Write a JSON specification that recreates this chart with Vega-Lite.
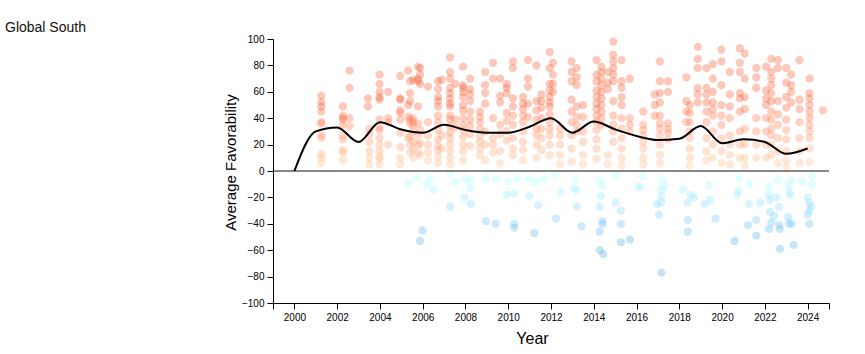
{
  "$schema": "https://vega.github.io/schema/vega-lite/v6.json",
  "width": 556,
  "height": 264,
  "autosize": {"type": "none"},
  "padding": {"left": 273, "top": 39, "right": 36, "bottom": 51},
  "background": "white",
  "title": {"text": "Global South", "anchor": "start", "frame": "group", "orient": "top", "dx": -268, "dy": 19, "offset": 7, "baseline": "alphabetic", "fontSize": 14, "font": "Liberation Sans", "fontWeight": "normal", "color": "#111111"},
  "config": {"view": {"stroke": null}, "font": "Liberation Sans"},
  "datasets": {
    "points": [
      {"year":2001.26,"fav":57},{"year":2001.26,"fav":52},{"year":2001.26,"fav":49},{"year":2001.26,"fav":45},{"year":2001.26,"fav":37},{"year":2001.26,"fav":36},{"year":2001.26,"fav":27},{"year":2001.26,"fav":25},{"year":2001.26,"fav":13},{"year":2001.26,"fav":10},{"year":2001.26,"fav":6},
      {"year":2002.27,"fav":49},{"year":2002.27,"fav":42},{"year":2002.27,"fav":40},{"year":2002.27,"fav":39},{"year":2002.27,"fav":35},{"year":2002.27,"fav":27},{"year":2002.27,"fav":24},{"year":2002.27,"fav":16},{"year":2002.27,"fav":14},{"year":2002.27,"fav":8},
      {"year":2002.58,"fav":76},{"year":2002.58,"fav":63},{"year":2002.58,"fav":40},{"year":2002.58,"fav":34},
      {"year":2003.44,"fav":55},{"year":2003.44,"fav":49},
      {"year":2003.51,"fav":32},{"year":2003.51,"fav":28},{"year":2003.51,"fav":22},{"year":2003.51,"fav":15},{"year":2003.51,"fav":10},{"year":2003.51,"fav":5},
      {"year":2003.98,"fav":73},{"year":2003.98,"fav":66},{"year":2003.98,"fav":60},{"year":2003.98,"fav":56},{"year":2003.98,"fav":54},{"year":2003.98,"fav":39},{"year":2003.98,"fav":33},{"year":2003.98,"fav":31},{"year":2003.98,"fav":25},{"year":2003.98,"fav":20},{"year":2003.98,"fav":15},{"year":2003.98,"fav":11},{"year":2003.98,"fav":9},{"year":2003.98,"fav":5},
      {"year":2004.39,"fav":60},{"year":2004.39,"fav":40},{"year":2004.39,"fav":37},{"year":2004.39,"fav":20},
      {"year":2004.95,"fav":72},{"year":2004.95,"fav":55},{"year":2004.95,"fav":54},{"year":2004.95,"fav":46},{"year":2004.95,"fav":44},{"year":2004.95,"fav":39},{"year":2004.95,"fav":29},{"year":2004.95,"fav":18},{"year":2004.95,"fav":10},{"year":2004.95,"fav":5},
      {"year":2005.32,"fav":76},{"year":2005.32,"fav":50},{"year":2005.32,"fav":41},{"year":2005.32,"fav":25},
      {"year":2005.41,"fav":68},{"year":2005.41,"fav":59},{"year":2005.41,"fav":53},{"year":2005.41,"fav":39},{"year":2005.41,"fav":36},{"year":2005.41,"fav":26},{"year":2005.41,"fav":20},{"year":2005.41,"fav":14},
      {"year":2005.55,"fav":69},{"year":2005.55,"fav":40},{"year":2005.55,"fav":37},{"year":2005.55,"fav":35},{"year":2005.55,"fav":30},{"year":2005.55,"fav":22},{"year":2005.55,"fav":16},{"year":2005.55,"fav":10},
      {"year":2005.78,"fav":79},{"year":2005.78,"fav":70},{"year":2005.78,"fav":68},{"year":2005.78,"fav":49},{"year":2005.78,"fav":36},{"year":2005.78,"fav":27},{"year":2005.78,"fav":20},{"year":2005.78,"fav":14},
      {"year":2005.88,"fav":78},{"year":2005.88,"fav":73},{"year":2005.88,"fav":66},{"year":2005.88,"fav":31},{"year":2005.88,"fav":21},{"year":2005.88,"fav":12},
      {"year":2006.25,"fav":64},{"year":2006.25,"fav":37},{"year":2006.25,"fav":27},{"year":2006.25,"fav":20},{"year":2006.25,"fav":14},{"year":2006.25,"fav":8},
      {"year":2006.72,"fav":68},{"year":2006.72,"fav":62},{"year":2006.72,"fav":56},{"year":2006.72,"fav":53},{"year":2006.72,"fav":49},{"year":2006.72,"fav":42},{"year":2006.72,"fav":37},{"year":2006.72,"fav":31},{"year":2006.72,"fav":24},{"year":2006.72,"fav":19},{"year":2006.72,"fav":16},{"year":2006.72,"fav":11},{"year":2006.72,"fav":6},
      {"year":2006.89,"fav":69},{"year":2006.89,"fav":27},{"year":2006.89,"fav":17},
      {"year":2007.28,"fav":86},{"year":2007.28,"fav":75},{"year":2007.28,"fav":70},{"year":2007.28,"fav":63},{"year":2007.28,"fav":59},{"year":2007.28,"fav":55},{"year":2007.28,"fav":51},{"year":2007.28,"fav":49},{"year":2007.28,"fav":42},{"year":2007.28,"fav":39},{"year":2007.28,"fav":34},{"year":2007.28,"fav":29},{"year":2007.28,"fav":25},{"year":2007.28,"fav":20},{"year":2007.28,"fav":15},{"year":2007.28,"fav":10},{"year":2007.28,"fav":5},
      {"year":2007.52,"fav":66},{"year":2007.52,"fav":39},{"year":2007.52,"fav":33},
      {"year":2007.89,"fav":79},{"year":2007.89,"fav":65},{"year":2007.89,"fav":63},{"year":2007.89,"fav":60},{"year":2007.89,"fav":56},{"year":2007.89,"fav":50},{"year":2007.89,"fav":46},{"year":2007.89,"fav":40},{"year":2007.89,"fav":35},{"year":2007.89,"fav":31},{"year":2007.89,"fav":26},{"year":2007.89,"fav":20},{"year":2007.89,"fav":15},{"year":2007.89,"fav":8},
      {"year":2008.22,"fav":70},{"year":2008.22,"fav":62},{"year":2008.22,"fav":58},{"year":2008.22,"fav":53},{"year":2008.22,"fav":45},{"year":2008.22,"fav":39},{"year":2008.22,"fav":34},{"year":2008.22,"fav":28},{"year":2008.22,"fav":19},
      {"year":2008.68,"fav":45},{"year":2008.68,"fav":41},{"year":2008.68,"fav":37},{"year":2008.68,"fav":32},{"year":2008.68,"fav":27},{"year":2008.68,"fav":22},{"year":2008.68,"fav":17},{"year":2008.68,"fav":12},
      {"year":2008.92,"fav":75},{"year":2008.92,"fav":65},{"year":2008.92,"fav":59},{"year":2008.92,"fav":51},{"year":2008.92,"fav":30},{"year":2008.92,"fav":20},{"year":2008.92,"fav":8},
      {"year":2009.29,"fav":82},{"year":2009.29,"fav":70},{"year":2009.29,"fav":40},{"year":2009.29,"fav":25},{"year":2009.29,"fav":20},{"year":2009.29,"fav":14},
      {"year":2009.62,"fav":70},{"year":2009.62,"fav":57},{"year":2009.62,"fav":52},{"year":2009.62,"fav":35},{"year":2009.62,"fav":28},{"year":2009.62,"fav":15},{"year":2009.62,"fav":6},
      {"year":2009.93,"fav":66},{"year":2009.93,"fav":63},{"year":2009.93,"fav":59},{"year":2009.93,"fav":44},{"year":2009.93,"fav":38},{"year":2009.93,"fav":30},{"year":2009.93,"fav":23},
      {"year":2010.22,"fav":83},{"year":2010.22,"fav":78},{"year":2010.22,"fav":55},{"year":2010.22,"fav":49},{"year":2010.22,"fav":42},{"year":2010.22,"fav":35},{"year":2010.22,"fav":25},{"year":2010.22,"fav":17},{"year":2010.22,"fav":12},
      {"year":2010.69,"fav":56},{"year":2010.69,"fav":51},{"year":2010.69,"fav":47},{"year":2010.69,"fav":42},{"year":2010.69,"fav":37},{"year":2010.69,"fav":30},{"year":2010.69,"fav":22},{"year":2010.69,"fav":16},{"year":2010.69,"fav":8},
      {"year":2010.92,"fav":84},{"year":2010.92,"fav":70},{"year":2010.92,"fav":64},{"year":2010.92,"fav":51},{"year":2010.92,"fav":41},
      {"year":2011.32,"fav":80},{"year":2011.32,"fav":53},{"year":2011.32,"fav":46},{"year":2011.32,"fav":39},{"year":2011.32,"fav":32},{"year":2011.32,"fav":27},{"year":2011.32,"fav":20},{"year":2011.32,"fav":10},
      {"year":2011.55,"fav":58},{"year":2011.55,"fav":53},{"year":2011.55,"fav":48},{"year":2011.55,"fav":40},{"year":2011.55,"fav":32},{"year":2011.55,"fav":25},{"year":2011.55,"fav":16},
      {"year":2011.94,"fav":90},{"year":2011.94,"fav":78},{"year":2011.94,"fav":66},{"year":2011.94,"fav":61},{"year":2011.94,"fav":56},{"year":2011.94,"fav":52},{"year":2011.94,"fav":49},{"year":2011.94,"fav":43},{"year":2011.94,"fav":37},{"year":2011.94,"fav":32},{"year":2011.94,"fav":27},{"year":2011.94,"fav":20},{"year":2011.94,"fav":12},
      {"year":2012.09,"fav":82},{"year":2012.09,"fav":73},{"year":2012.09,"fav":66},{"year":2012.09,"fav":60},
      {"year":2012.42,"fav":32},{"year":2012.42,"fav":27},{"year":2012.42,"fav":20},{"year":2012.42,"fav":12},{"year":2012.42,"fav":5},
      {"year":2012.96,"fav":83},{"year":2012.96,"fav":75},{"year":2012.96,"fav":68},{"year":2012.96,"fav":54},{"year":2012.96,"fav":45},{"year":2012.96,"fav":37},{"year":2012.96,"fav":27},{"year":2012.96,"fav":17},{"year":2012.96,"fav":7},
      {"year":2013.2,"fav":78},{"year":2013.2,"fav":71},{"year":2013.2,"fav":65},{"year":2013.2,"fav":49},{"year":2013.2,"fav":41},{"year":2013.2,"fav":35},{"year":2013.2,"fav":30},
      {"year":2013.5,"fav":50},{"year":2013.5,"fav":41},{"year":2013.5,"fav":30},{"year":2013.5,"fav":22},{"year":2013.5,"fav":12},{"year":2013.5,"fav":5},
      {"year":2014.13,"fav":84},{"year":2014.13,"fav":73},{"year":2014.13,"fav":68},{"year":2014.13,"fav":61},{"year":2014.13,"fav":56},{"year":2014.13,"fav":51},{"year":2014.13,"fav":47},{"year":2014.13,"fav":42},{"year":2014.13,"fav":37},{"year":2014.13,"fav":31},{"year":2014.13,"fav":24},{"year":2014.13,"fav":17},{"year":2014.13,"fav":9},
      {"year":2014.36,"fav":79},{"year":2014.36,"fav":75},{"year":2014.36,"fav":70},{"year":2014.36,"fav":65},{"year":2014.36,"fav":60},{"year":2014.36,"fav":55},{"year":2014.36,"fav":50},{"year":2014.36,"fav":45},{"year":2014.36,"fav":40},{"year":2014.36,"fav":35},
      {"year":2014.66,"fav":75},{"year":2014.66,"fav":67},{"year":2014.66,"fav":62},{"year":2014.66,"fav":12},{"year":2014.66,"fav":5},
      {"year":2014.91,"fav":98},{"year":2014.91,"fav":88},{"year":2014.91,"fav":83},{"year":2014.91,"fav":78},{"year":2014.91,"fav":73},{"year":2014.91,"fav":68},{"year":2014.91,"fav":53},{"year":2014.91,"fav":42},{"year":2014.91,"fav":35},{"year":2014.91,"fav":30},{"year":2014.91,"fav":22},
      {"year":2015.3,"fav":84},{"year":2015.3,"fav":68},{"year":2015.3,"fav":63},{"year":2015.3,"fav":56},{"year":2015.3,"fav":50},{"year":2015.3,"fav":40},{"year":2015.3,"fav":32},{"year":2015.3,"fav":25},{"year":2015.3,"fav":17},{"year":2015.3,"fav":10},{"year":2015.3,"fav":4},
      {"year":2015.69,"fav":70},{"year":2015.69,"fav":40},{"year":2015.69,"fav":35},{"year":2015.69,"fav":30},
      {"year":2016.31,"fav":45},{"year":2016.31,"fav":35},{"year":2016.31,"fav":31},{"year":2016.31,"fav":27},{"year":2016.31,"fav":22},{"year":2016.31,"fav":17},{"year":2016.31,"fav":10},{"year":2016.31,"fav":5},
      {"year":2016.85,"fav":58},{"year":2016.85,"fav":50},{"year":2016.85,"fav":42},
      {"year":2017.09,"fav":83},{"year":2017.09,"fav":68},{"year":2017.09,"fav":59},{"year":2017.09,"fav":52},{"year":2017.09,"fav":42},{"year":2017.09,"fav":36},{"year":2017.09,"fav":32},{"year":2017.09,"fav":27},{"year":2017.09,"fav":20},{"year":2017.09,"fav":12},{"year":2017.09,"fav":6},
      {"year":2017.47,"fav":68},{"year":2017.47,"fav":60},{"year":2017.47,"fav":36},{"year":2017.47,"fav":32},{"year":2017.47,"fav":29},{"year":2017.47,"fav":24},
      {"year":2018.33,"fav":71},{"year":2018.33,"fav":53},{"year":2018.33,"fav":45},{"year":2018.33,"fav":37},
      {"year":2018.49,"fav":50},{"year":2018.49,"fav":44},{"year":2018.49,"fav":37},{"year":2018.49,"fav":30},{"year":2018.49,"fav":25},{"year":2018.49,"fav":17},{"year":2018.49,"fav":10},{"year":2018.49,"fav":4},
      {"year":2018.86,"fav":94},{"year":2018.86,"fav":85},{"year":2018.86,"fav":78},{"year":2018.86,"fav":63},{"year":2018.86,"fav":58},{"year":2018.86,"fav":52},
      {"year":2019.27,"fav":78},{"year":2019.27,"fav":63},{"year":2019.27,"fav":58},{"year":2019.27,"fav":52},{"year":2019.27,"fav":45},{"year":2019.27,"fav":37},{"year":2019.27,"fav":25},{"year":2019.27,"fav":15},{"year":2019.27,"fav":8},
      {"year":2019.57,"fav":81},{"year":2019.57,"fav":70},{"year":2019.57,"fav":60},{"year":2019.57,"fav":52},{"year":2019.57,"fav":47},{"year":2019.57,"fav":42},{"year":2019.57,"fav":30},{"year":2019.57,"fav":20},{"year":2019.57,"fav":10},
      {"year":2019.97,"fav":92},{"year":2019.97,"fav":83},{"year":2019.97,"fav":65},{"year":2019.97,"fav":50},{"year":2019.97,"fav":42},{"year":2019.97,"fav":35},{"year":2019.97,"fav":25},{"year":2019.97,"fav":15},{"year":2019.97,"fav":6},
      {"year":2020.36,"fav":75},{"year":2020.36,"fav":58},{"year":2020.36,"fav":49},{"year":2020.36,"fav":40},{"year":2020.36,"fav":27},{"year":2020.36,"fav":20},{"year":2020.36,"fav":12},{"year":2020.36,"fav":5},
      {"year":2020.83,"fav":93},{"year":2020.83,"fav":82},{"year":2020.83,"fav":75},{"year":2020.83,"fav":59},{"year":2020.83,"fav":55},{"year":2020.83,"fav":45},{"year":2020.83,"fav":30},{"year":2020.83,"fav":20},{"year":2020.83,"fav":10},
      {"year":2021.06,"fav":89},{"year":2021.06,"fav":70},{"year":2021.06,"fav":56},{"year":2021.06,"fav":47},{"year":2021.06,"fav":32},{"year":2021.06,"fav":20},{"year":2021.06,"fav":10},{"year":2021.06,"fav":4},
      {"year":2021.6,"fav":78},{"year":2021.6,"fav":71},{"year":2021.6,"fav":63},{"year":2021.6,"fav":40},{"year":2021.6,"fav":30},{"year":2021.6,"fav":20},{"year":2021.6,"fav":10},
      {"year":2022.06,"fav":79},{"year":2022.06,"fav":61},{"year":2022.06,"fav":55},{"year":2022.06,"fav":50},{"year":2022.06,"fav":40},{"year":2022.06,"fav":30},{"year":2022.06,"fav":20},{"year":2022.06,"fav":10},
      {"year":2022.3,"fav":85},{"year":2022.3,"fav":75},{"year":2022.3,"fav":70},{"year":2022.3,"fav":65},{"year":2022.3,"fav":59},{"year":2022.3,"fav":53},{"year":2022.3,"fav":45},{"year":2022.3,"fav":39},{"year":2022.3,"fav":32},{"year":2022.3,"fav":27},{"year":2022.3,"fav":20},{"year":2022.3,"fav":12},
      {"year":2022.61,"fav":84},{"year":2022.61,"fav":78},{"year":2022.61,"fav":53},{"year":2022.61,"fav":43},{"year":2022.61,"fav":35},{"year":2022.61,"fav":25},{"year":2022.61,"fav":15},{"year":2022.61,"fav":6},
      {"year":2023.0,"fav":78},{"year":2023.0,"fav":67},{"year":2023.0,"fav":56},{"year":2023.0,"fav":48},{"year":2023.0,"fav":39},{"year":2023.0,"fav":31},{"year":2023.0,"fav":24},{"year":2023.0,"fav":15},{"year":2023.0,"fav":8},{"year":2023.0,"fav":3},
      {"year":2023.23,"fav":73},{"year":2023.23,"fav":65},{"year":2023.23,"fav":60},{"year":2023.23,"fav":52},
      {"year":2023.62,"fav":84},{"year":2023.62,"fav":54},{"year":2023.62,"fav":47},{"year":2023.62,"fav":37},{"year":2023.62,"fav":25},{"year":2023.62,"fav":15},{"year":2023.62,"fav":6},
      {"year":2024.09,"fav":70},{"year":2024.09,"fav":59},{"year":2024.09,"fav":55},{"year":2024.09,"fav":50},{"year":2024.09,"fav":45},{"year":2024.09,"fav":40},{"year":2024.09,"fav":35},{"year":2024.09,"fav":30},{"year":2024.09,"fav":25},{"year":2024.09,"fav":17},{"year":2024.09,"fav":7},
      {"year":2024.71,"fav":46},
      {"year":2005.33,"fav":-9},{"year":2005.73,"fav":-5},{"year":2006.19,"fav":-10},{"year":2006.35,"fav":-6},{"year":2006.5,"fav":-14},{"year":2005.99,"fav":-45},{"year":2005.88,"fav":-53},
      {"year":2007.28,"fav":-2},{"year":2007.28,"fav":-27},{"year":2007.52,"fav":-8},{"year":2007.98,"fav":-6},{"year":2008.22,"fav":-7},{"year":2008.22,"fav":-13},{"year":2007.94,"fav":-20},{"year":2008.25,"fav":-25},
      {"year":2008.96,"fav":-38},{"year":2009.42,"fav":-40},{"year":2008.95,"fav":-6},{"year":2009.43,"fav":-6},
      {"year":2010.0,"fav":-8},{"year":2009.93,"fav":-18},{"year":2010.28,"fav":-17},{"year":2010.28,"fav":-40},{"year":2010.28,"fav":-43},{"year":2010.42,"fav":-6},
      {"year":2010.94,"fav":-6},{"year":2011.25,"fav":-8},{"year":2010.98,"fav":-19},{"year":2011.4,"fav":-26},{"year":2011.22,"fav":-47},{"year":2011.67,"fav":-6},
      {"year":2012.18,"fav":-3},{"year":2012.23,"fav":-36},{"year":2012.45,"fav":-16},
      {"year":2013.15,"fav":-6},{"year":2013.07,"fav":-13},{"year":2013.2,"fav":-15},{"year":2013.2,"fav":-27},{"year":2013.43,"fav":-42},
      {"year":2014.28,"fav":-7},{"year":2014.41,"fav":-11},{"year":2014.33,"fav":-19},{"year":2014.28,"fav":-27},{"year":2014.41,"fav":-38},{"year":2014.41,"fav":-40},{"year":2014.28,"fav":-46},{"year":2014.28,"fav":-60},{"year":2014.44,"fav":-63},
      {"year":2015.03,"fav":-24},{"year":2015.27,"fav":-30},{"year":2015.27,"fav":-40},{"year":2015.27,"fav":-54},{"year":2015.69,"fav":-52},{"year":2015.06,"fav":-3},
      {"year":2016.07,"fav":-12},{"year":2016.18,"fav":-12},{"year":2016.29,"fav":-4},
      {"year":2016.96,"fav":-25},{"year":2017.05,"fav":-33},{"year":2017.16,"fav":-14},{"year":2017.16,"fav":-19},{"year":2017.16,"fav":-24},{"year":2017.32,"fav":-11},{"year":2017.16,"fav":-6},{"year":2017.16,"fav":-77},
      {"year":2018.17,"fav":-14},{"year":2018.4,"fav":-24},{"year":2018.4,"fav":-37},{"year":2018.4,"fav":-46},{"year":2018.52,"fav":-18},{"year":2018.67,"fav":-20},
      {"year":2019.19,"fav":-25},{"year":2019.45,"fav":-22},{"year":2019.39,"fav":-11},{"year":2019.69,"fav":-36},
      {"year":2020.59,"fav":-53},{"year":2020.7,"fav":-18},{"year":2020.79,"fav":-15},{"year":2020.82,"fav":-6},
      {"year":2021.25,"fav":-25},{"year":2021.21,"fav":-41},{"year":2021.6,"fav":-37},{"year":2021.6,"fav":-49},{"year":2021.79,"fav":-24},{"year":2021.28,"fav":-10},
      {"year":2022.2,"fav":-12},{"year":2022.2,"fav":-18},{"year":2022.24,"fav":-22},{"year":2022.24,"fav":-31},{"year":2022.3,"fav":-39},{"year":2022.2,"fav":-44},{"year":2022.43,"fav":-34},{"year":2022.55,"fav":-20},{"year":2022.67,"fav":-27},{"year":2022.67,"fav":-41},{"year":2022.7,"fav":-44},{"year":2022.7,"fav":-59},{"year":2022.62,"fav":-7},
      {"year":2023.13,"fav":-11},{"year":2023.13,"fav":-16},{"year":2023.2,"fav":-18},{"year":2023.09,"fav":-35},{"year":2023.13,"fav":-40},{"year":2023.26,"fav":-40},{"year":2023.34,"fav":-56},{"year":2023.23,"fav":-7},{"year":2023.74,"fav":-8},
      {"year":2024.0,"fav":-20},{"year":2024.08,"fav":-24},{"year":2024.08,"fav":-30},{"year":2024.16,"fav":-27},{"year":2024.0,"fav":-33},{"year":2024.08,"fav":-40},{"year":2024.21,"fav":-10},{"year":2024.21,"fav":-4}
    ],
    "avg": [
      {"year":2000,"fav":0},{"year":2001,"fav":30},{"year":2002,"fav":33},{"year":2003,"fav":22},{"year":2004,"fav":37},{"year":2005,"fav":31.5},{"year":2006,"fav":29},{"year":2007,"fav":35},{"year":2008,"fav":31},{"year":2009,"fav":29},{"year":2010,"fav":29},{"year":2011,"fav":33.5},{"year":2012,"fav":40},{"year":2013,"fav":29},{"year":2014,"fav":37.5},{"year":2015,"fav":31.5},{"year":2016,"fav":26.5},{"year":2017,"fav":23.5},{"year":2018,"fav":24.5},{"year":2019,"fav":34},{"year":2020,"fav":21},{"year":2021,"fav":24},{"year":2022,"fav":22},{"year":2023,"fav":13},{"year":2024,"fav":17}
    ]
  },
  "layer": [
    {
      "data": {"name": "points"},
      "mark": {"type": "circle", "size": 68, "opacity": 0.35},
      "encoding": {
        "x": {"field": "year", "type": "quantitative", "scale": {"domain": [1999, 2025], "nice": false, "zero": false},
          "axis": {"title": "Year", "values": [1999,2000,2002,2004,2006,2008,2010,2012,2014,2016,2018,2020,2022,2024,2025], "tickCount": 40, "labelExpr": "datum.value == 1999 || datum.value == 2025 ? '' : datum.label", "format": "d", "grid": false, "domainColor": "#000000", "tickColor": "#000000", "tickSize": 6, "labelFont": "Liberation Sans", "labelFontSize": 10, "labelColor": "#000000", "labelPadding": 3, "labelFlush": false, "labelOverlap": false, "titleFont": "Liberation Sans", "titleFontSize": 16, "titleFontWeight": "normal", "titleColor": "#000000", "titlePadding": 8, "titleX": 259}},
        "y": {"field": "fav", "type": "quantitative", "scale": {"domain": [-100, 100], "nice": false},
          "axis": {"title": "Average Favorability", "values": [-100,-80,-60,-40,-20,0,20,40,60,80,100], "tickCount": 40, "format": "d", "grid": false, "domainColor": "#000000", "tickColor": "#000000", "tickSize": 6, "labelFont": "Liberation Sans", "labelFontSize": 10, "labelColor": "#000000", "labelPadding": 3, "labelFlush": false, "labelOverlap": false, "titleFont": "Liberation Sans", "titleFontSize": 15, "titleFontWeight": "normal", "titleColor": "#000000", "titlePadding": 3, "titleY": 123}},
        "color": {"field": "fav", "type": "quantitative", "scale": {"domain": [-50, 0, 50], "range": ["#5fb3e0", "#ffffff", "#f4603a"], "clamp": true}, "legend": null}
      }
    },
    {
      "data": {"values": [{}]},
      "mark": {"type": "rule", "color": "#111111", "strokeWidth": 1},
      "encoding": {"y": {"datum": 0}}
    },
    {
      "data": {"name": "avg"},
      "mark": {"type": "line", "interpolate": "monotone", "color": "#000000", "strokeWidth": 2},
      "encoding": {
        "x": {"field": "year", "type": "quantitative"},
        "y": {"field": "fav", "type": "quantitative"}
      }
    }
  ]
}
